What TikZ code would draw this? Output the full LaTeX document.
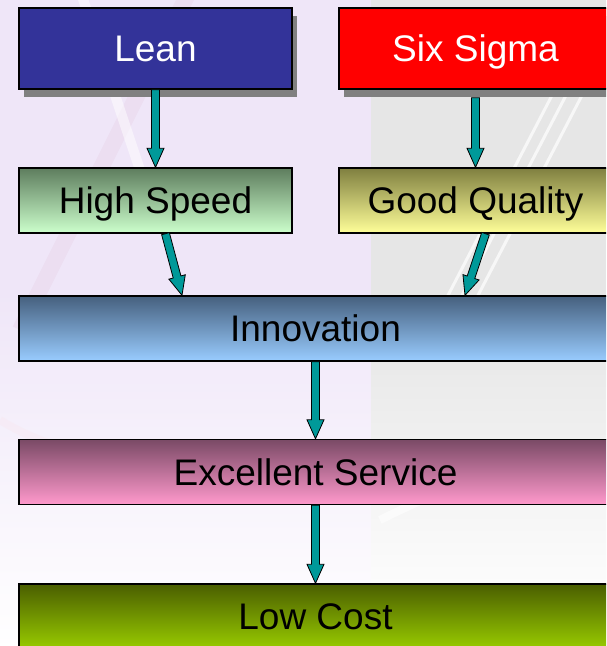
\documentclass[tikz,border=0pt]{standalone}
\usepackage{fontspec}
\setmainfont{Liberation Sans}
\usetikzlibrary{calc,positioning,shadows}
\definecolor{leanblue}{HTML}{333399}
\definecolor{sixred}{HTML}{FF0000}
\definecolor{flowteal}{HTML}{009999}
\definecolor{lav}{HTML}{EFE6F8}
\definecolor{slidegray}{HTML}{E6E6E6}
\definecolor{speedtop}{HTML}{5E7D5E}
\definecolor{speedbot}{HTML}{CCFFCC}
\definecolor{qualtop}{HTML}{7F7F40}
\definecolor{qualbot}{HTML}{FFFF99}
\definecolor{innovtop}{HTML}{46607E}
\definecolor{innovbot}{HTML}{99CCFF}
\definecolor{servtop}{HTML}{7A4A66}
\definecolor{servbot}{HTML}{FF99CC}
\definecolor{costtop}{HTML}{4A5E00}
\definecolor{costbot}{HTML}{99CC00}
\tikzset{
  box/.style={draw=black, line width=1.4pt, minimum width=273pt, minimum height=65pt,
    inner sep=0pt, text height=26.5pt, text depth=0pt, font=\fontsize{37}{41}\selectfont},
  wide/.style={box, minimum width=593pt},
  lifted/.style={drop shadow={shadow xshift=5pt, shadow yshift=-8pt, fill=black!50, opacity=1}},
  flow/.style={draw=black, line width=0.8pt, fill=flowteal,
    to path={($(\tikztostart)!4pt!90:(\tikztotarget)$)
      -- ($($(\tikztotarget)!19pt!(\tikztostart)$)!4pt!-90:(\tikztostart)$)
      -- ($($(\tikztotarget)!19pt!(\tikztostart)$)!8.5pt!-90:(\tikztostart)$)
      -- (\tikztotarget)
      -- ($($(\tikztotarget)!19pt!(\tikztostart)$)!8.5pt!90:(\tikztostart)$)
      -- ($($(\tikztotarget)!19pt!(\tikztostart)$)!4pt!90:(\tikztostart)$)
      -- ($(\tikztostart)!4pt!-90:(\tikztotarget)$) -- cycle}}
}
\begin{document}
\begin{tikzpicture}[x=1pt,y=-1pt]
\useasboundingbox (0,0) rectangle (606,646);
\clip (0,0) rectangle (606,646);
% slide backdrop
\fill[white] (0,0) rectangle (606,646);
\fill[lav] (0,0) rectangle (371,380);
\shade[top color=lav, bottom color=white] (0,290) rectangle (371,650);
\fill[slidegray] (371,0) rectangle (606,400);
\shade[top color=slidegray, bottom color=white] (371,320) rectangle (606,620);
\draw[line width=16pt, blue!40!purple!14, opacity=.7] (20,330) -- (190,-10);
\draw[line width=10pt, white, opacity=.5] (80,-10) -- (150,200);
\foreach \dx in {0,14,30}
  \draw[line width=3pt, white, opacity=.7] (430+\dx,330) -- (560+\dx,80);
\draw[line width=8pt, white, opacity=.6] (380,520) .. controls (480,470) and (560,450) .. (620,440);
\draw[line width=8pt, purple!10, opacity=.3] (0,420) .. controls (80,470) and (200,470) .. (300,455);

\node[box, minimum height=81pt, fill=leanblue, text=white, lifted] (Lean) at (155.5,48.5) {Lean};
\node[box, minimum height=81pt, fill=sixred, text=white, lifted] (Six) at (475.5,48.5) {Six Sigma};
\node[box, top color=speedtop, bottom color=speedbot] (Speed) at (155.5,200.5) {High Speed};
\node[box, top color=qualtop, bottom color=qualbot] (Quality) at (475.5,200.5) {Good Quality};
\node[wide, top color=innovtop, bottom color=innovbot] (Innov) at (315.5,328.5) {Innovation};
\node[wide, top color=servtop, bottom color=servbot] (Serv) at (315.5,472) {Excellent Service};
\node[wide, top color=costtop, bottom color=costbot] (Cost) at (315.5,616.5) {Low Cost};

\draw[flow] (Lean.south) to (Speed.north);
\draw[flow] ([yshift=-8pt]Six.south) to (Quality.north);
\draw[flow] ([xshift=10pt]Speed.south) to ([xshift=-133.5pt]Innov.north);
\draw[flow] ([xshift=10pt]Quality.south) to ([xshift=149.5pt]Innov.north);
\draw[flow] (Innov.south) to (Serv.north);
\draw[flow] (Serv.south) to (Cost.north);
\end{tikzpicture}
\end{document}
